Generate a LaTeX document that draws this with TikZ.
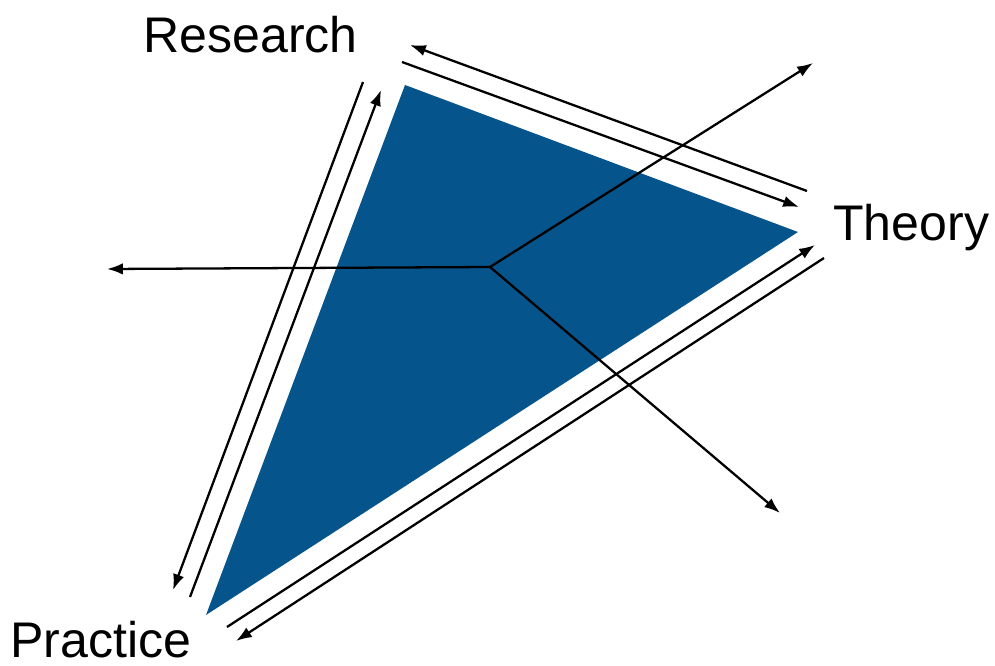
\documentclass[tikz,border=0pt]{standalone}
\usepackage{fontspec}
\setmainfont{Liberation Sans}
\usetikzlibrary{arrows.meta}
\definecolor{triblue}{RGB}{6,84,140}
\begin{document}
\begin{tikzpicture}[x=0.02cm,y=-0.02cm,
    flow/.style={line width=1.3pt,-{Latex[length=9pt,width=6.5pt]}},
    corner/.style={font=\fontsize{28.5}{30}\selectfont,inner sep=0pt}]
    \useasboundingbox (0,0) rectangle (995,666);
    % Triangle
    \coordinate (R) at (405,85);
    \coordinate (T) at (798,232);
    \coordinate (P) at (206,615);
    \fill[triblue] (R) -- (T) -- (P) -- cycle;
    % Labels
    \node[corner, anchor=base west] (research) at (143,52) {Research};
    \node[corner, anchor=base west] (theory) at (833,240) {Theory};
    \node[corner, anchor=base west] (practice) at (10,657) {Practice};
    % Research -- Theory
    \coordinate (rt1) at (807,191);
    \coordinate (rt2) at (410,45);
    \coordinate (rt3) at (402,62);
    \coordinate (rt4) at (799,207);
    \draw[flow] (rt1) -- (rt2);
    \draw[flow] (rt3) -- (rt4);
    % Theory -- Practice
    \coordinate (tp1) at (227,627);
    \coordinate (tp2) at (815,245);
    \coordinate (tp3) at (824,258);
    \coordinate (tp4) at (236,641);
    \draw[flow] (tp1) -- (tp2);
    \draw[flow] (tp3) -- (tp4);
    % Practice -- Research
    \coordinate (pr1) at (190,597);
    \coordinate (pr2) at (381,90);
    \coordinate (pr3) at (363,82);
    \coordinate (pr4) at (173,590);
    \draw[flow] (pr1) -- (pr2);
    \draw[flow] (pr3) -- (pr4);
    % Centre
    \coordinate (C) at (490,267);
    \coordinate (west) at (107,269);
    \coordinate (northeast) at (813,63);
    \coordinate (southeast) at (780,513);
    \draw[flow] (C) -- (west);
    \draw[flow] (C) -- (northeast);
    \draw[flow] (C) -- (southeast);
\end{tikzpicture}
\end{document}
